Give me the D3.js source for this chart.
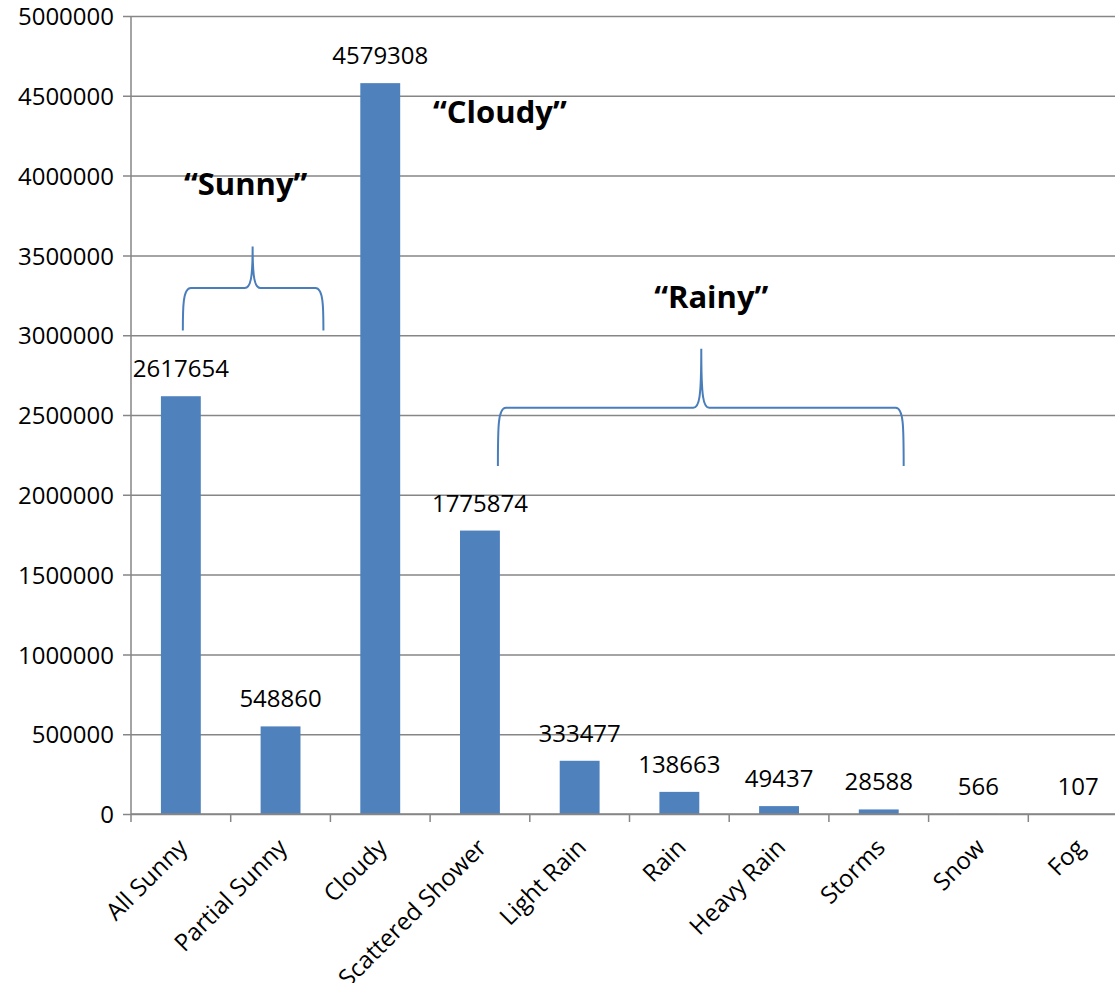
<!DOCTYPE html>
<html>
<head>
<meta charset="utf-8">
<script src="https://cdn.jsdelivr.net/npm/d3@7"></script>
<style>
  html, body { margin: 0; padding: 0; background: #fff; }
  svg { display: block; }
  text { font-family: "Open Sans", "Liberation Sans", sans-serif; fill: #000; }
</style>
</head>
<body>
<svg id="chart" width="1115" height="983"></svg>
<script>
// Weather condition counts
const categories = ["All Sunny", "Partial Sunny", "Cloudy", "Scattered Shower", "Light Rain",
                    "Rain", "Heavy Rain", "Storms", "Snow", "Fog"];
const counts = [2617654, 548860, 4579308, 1775874, 333477, 138663, 49437, 28588, 566, 107];
const yTicks = [0, 500000, 1000000, 1500000, 2000000, 2500000, 3000000, 3500000, 4000000, 4500000, 5000000];

// Group brackets: span in category slots, heights in axis units
const groups = [
  { name: "\u201cSunny\u201d",  from: 0.52, to: 1.93, peak: 1.22, base: 3030000, bar: 3295000, top: 3555000, labelX: 1.15, labelY: 3880000 },
  { name: "\u201cRainy\u201d",  from: 3.68, to: 7.75, peak: 5.72, base: 2180000, bar: 2545000, top: 2915000, labelX: 5.82, labelY: 3170000 }
];
const callouts = [
  { name: "\u201cCloudy\u201d", x: 3.7, y: 4330000 }
];

const svg = d3.select("#chart");
const plotLeft = 131, plotTop = 16, plotBottom = 814;
const slot = 99.7;
const plotRight = plotLeft + slot * categories.length;
const fontSize = 24;

const x = d3.scaleBand().domain(categories).range([plotLeft, plotRight]).paddingInner(0.6).paddingOuter(0.3);
const xSlot = d3.scaleLinear().domain([0, categories.length]).range([plotLeft, plotRight]);
const y = d3.scaleLinear().domain([0, 5000000]).range([plotBottom, plotTop]);

const gridColor = "#868686";

// Horizontal gridlines with left tick marks
const yAxis = d3.axisLeft(y).tickValues(yTicks).tickSize(-(plotRight - plotLeft)).tickSizeOuter(0).tickPadding(17)
  .tickFormat(d3.format("d"));
const gy = svg.append("g").attr("transform", `translate(${plotLeft},0)`).call(yAxis);
gy.select(".domain").remove();
gy.selectAll(".tick line").attr("stroke", gridColor).attr("stroke-width", 1.5).attr("x1", -8);
gy.selectAll(".tick text").attr("font-size", fontSize).attr("dy", "0.36em").style("font-family", '"Open Sans", sans-serif');

// Vertical axis line
svg.append("line").attr("x1", plotLeft).attr("x2", plotLeft).attr("y1", plotTop).attr("y2", plotBottom)
  .attr("stroke", gridColor).attr("stroke-width", 1.5);

// Bars
svg.append("g").selectAll("rect").data(categories).join("rect")
  .attr("x", d => x(d))
  .attr("width", x.bandwidth())
  .attr("y", (d, i) => y(counts[i]))
  .attr("height", (d, i) => plotBottom - y(counts[i]))
  .attr("fill", "#4F81BD");

// Category axis
const slotEdges = d3.range(categories.length + 1);
svg.append("line").attr("x1", plotLeft).attr("x2", plotRight).attr("y1", plotBottom).attr("y2", plotBottom)
  .attr("stroke", gridColor).attr("stroke-width", 1.5);
svg.append("g").selectAll("line").data(slotEdges).join("line")
  .attr("x1", d => xSlot(d)).attr("x2", d => xSlot(d))
  .attr("y1", plotBottom).attr("y2", plotBottom + 8)
  .attr("stroke", gridColor).attr("stroke-width", 1.5);

svg.append("g").selectAll("text").data(categories).join("text")
  .attr("transform", d => `translate(${x(d) + x.bandwidth() / 2 + 2},${plotBottom + 29}) rotate(-45)`)
  .attr("text-anchor", "end")
  .attr("dy", "0.35em")
  .attr("font-size", fontSize)
  .text(d => d);

// Value labels
svg.append("g").selectAll("text").data(categories).join("text")
  .attr("x", d => x(d) + x.bandwidth() / 2)
  .attr("y", (d, i) => y(counts[i]) - 19)
  .attr("text-anchor", "middle")
  .attr("font-size", fontSize)
  .text((d, i) => counts[i]);

// Curly brackets
const bracketColor = "#4A7EBB";
groups.forEach(g => {
  const x0 = xSlot(g.from), x1 = xSlot(g.to), xp = xSlot(g.peak);
  const yb = y(g.base), yh = y(g.bar), yt = y(g.top);
  const r = 8;
  const p = d3.path();
  p.moveTo(x0, yb);
  p.bezierCurveTo(x0, yh + 20, x0, yh, x0 + r, yh);
  p.lineTo(xp - 8, yh);
  p.bezierCurveTo(xp - 2, yh, xp, yh - 10, xp, yt);
  p.moveTo(xp, yt);
  p.bezierCurveTo(xp, yh - 10, xp + 2, yh, xp + 8, yh);
  p.lineTo(x1 - r, yh);
  p.bezierCurveTo(x1, yh, x1, yh + 20, x1, yb);
  svg.append("path").attr("d", p.toString()).attr("fill", "none")
    .attr("stroke", bracketColor).attr("stroke-width", 2);
  svg.append("text").attr("x", xSlot(g.labelX)).attr("y", y(g.labelY))
    .attr("text-anchor", "middle").attr("font-size", 31).attr("font-weight", "bold")
    .text(g.name);
});

callouts.forEach(c => {
  svg.append("text").attr("x", xSlot(c.x)).attr("y", y(c.y))
    .attr("text-anchor", "middle").attr("font-size", 31).attr("font-weight", "bold")
    .text(c.name);
});
</script>
</body>
</html>
